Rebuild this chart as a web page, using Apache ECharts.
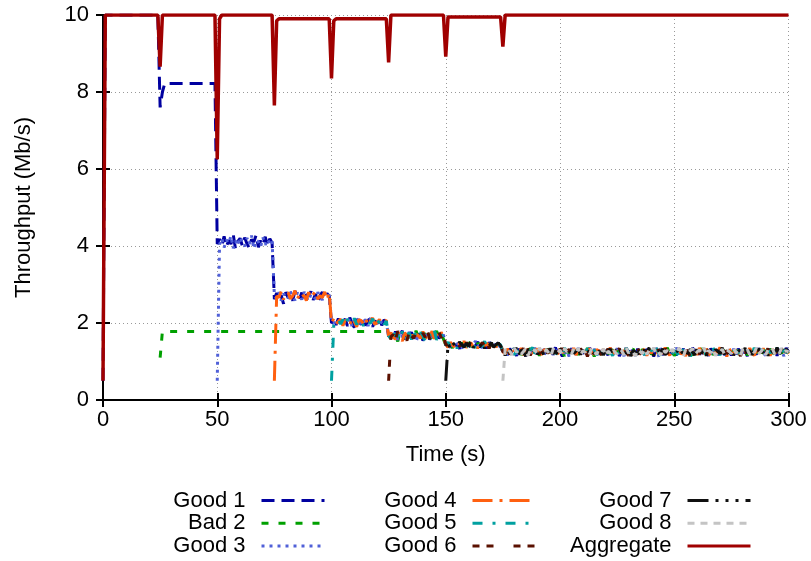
<!DOCTYPE html>
<html>
<head>
<meta charset="utf-8">
<script src="https://cdn.jsdelivr.net/npm/echarts@6/dist/echarts.min.js"></script>
<style>html,body{margin:0;padding:0;background:#fff}#chart{width:811px;height:561px}</style>
</head>
<body>
<div id="chart"></div>
<script>
// Axis ticks
const xTicks = [0, 50, 100, 150, 200, 250, 300];
const yTicks = [0, 2, 4, 6, 8, 10];

// Series names
const names = ['Good 1', 'Bad 2', 'Good 3', 'Good 4', 'Good 5', 'Good 6', 'Good 7', 'Good 8', 'Aggregate'];

// Each flow: first sample time (s) and one value per second (Mb/s)
const good1Start = 0;
const good1 = [0.5,
10,10,10,10,10,10,10,10,10,10,10,10,10,10,10,10,10,10,10,10,10,10,10,10,
7.6,8.0,8.22,8.22,8.22,8.22,8.22,8.22,8.22,8.22,8.22,8.22,8.22,8.22,8.22,8.22,8.22,8.22,8.22,8.22,8.22,8.22,8.22,8.22,8.22,
4.05,4.18,4.02,4.25,3.98,4.15,4.05,4.3,3.92,4.12,4.2,4.0,4.22,4.06,3.95,4.17,4.1,4.28,3.97,4.14,4.03,4.24,4.0,4.19,4.08,
2.62,2.78,2.6,2.72,2.5,2.8,2.66,2.75,2.58,2.83,2.68,2.62,2.79,2.55,2.74,2.7,2.82,2.6,2.76,2.52,2.71,2.8,2.64,2.77,2.7,
2.0,2.08,1.95,2.12,1.9,2.05,2.1,1.92,2.14,2.0,1.88,2.1,2.03,1.96,2.13,1.93,2.07,2.11,1.9,2.06,1.98,2.12,1.94,2.08,2.02,
1.65,1.72,1.55,1.78,1.6,1.68,1.8,1.52,1.7,1.64,1.76,1.58,1.73,1.62,1.79,1.54,1.69,1.75,1.57,1.71,1.63,1.77,1.6,1.7,1.66,
1.42,1.48,1.36,1.5,1.4,1.45,1.33,1.52,1.42,1.38,1.49,1.35,1.46,1.41,1.51,1.37,1.44,1.47,1.34,1.5,1.39,1.45,1.43,1.48,1.4,
1.25,
1.3,1.18,1.34,1.2,1.27,1.15,1.33,1.22,1.29,1.14,1.31,1.24,1.19,1.35,1.21,1.28,1.16,1.32,1.23,1.3,1.17,1.26,1.36,1.2,1.29,
1.13,1.31,1.25,1.19,1.34,1.22,1.28,1.15,1.33,1.21,1.27,1.18,1.35,1.24,1.3,1.16,1.29,1.2,1.32,1.23,1.17,1.34,1.26,1.21,1.31,
1.14,1.28,1.22,1.36,1.19,1.3,1.25,1.15,1.33,1.2,1.27,1.18,1.32,1.24,1.29,1.13,1.35,1.21,1.26,1.17,1.31,1.23,1.34,1.19,1.28,
1.16,1.3,1.22,1.33,1.2,1.25,1.14,1.36,1.23,1.29,1.18,1.32,1.21,1.27,1.15,1.34,1.24,1.3,1.17,1.28,1.2,1.35,1.22,1.26,1.16,
1.31,1.19,1.33,1.25,1.21,1.29,1.14,1.32,1.23,1.27,1.18,1.34,1.2,1.3,1.24,1.17,1.33,1.22,1.28,1.15,1.31,1.26,1.2,1.35,1.25];

const bad2Start = 25;
const bad2 = [1.1,
1.78,1.78,1.78,1.78,1.78,1.78,1.78,1.78,1.78,1.78,
1.78,1.78,1.78,1.78,1.78,1.78,1.78,1.78,1.78,1.78,
1.78,1.78,1.78,1.78,1.78,1.78,1.78,1.78,1.78,1.78,
1.78,1.78,1.78,1.78,1.78,1.78,1.78,1.78,1.78,1.78,
1.78,1.78,1.78,1.78,1.78,1.78,1.78,1.78,1.78,1.78,
1.78,1.78,1.78,1.78,1.78,1.78,1.78,1.78,1.78,1.78,
1.78,1.78,1.78,1.78,1.78,1.78,1.78,1.78,1.78,1.78,
1.78,1.78,1.78,1.78,1.78,1.78,1.78,1.78,1.78,1.78,
1.78,1.78,1.78,1.78,1.78,1.78,1.78,1.78,1.78,1.78,
1.78,1.78,1.78,1.78,1.78,1.78,1.78,1.78,1.78,
1.7,1.6,1.74,1.65,1.52,1.78,1.67,1.59,1.75,1.62,1.7,1.55,1.8,1.64,1.69,1.57,1.76,1.61,1.72,1.53,1.68,1.79,1.63,1.71,1.58,
1.43,1.4,1.47,1.35,1.51,1.42,1.38,1.49,1.36,1.45,1.52,1.39,1.44,1.34,1.48,1.41,1.5,1.37,1.46,1.43,1.35,1.49,1.4,1.47,1.42,
1.25,
1.22,1.31,1.17,1.28,1.34,1.19,1.25,1.13,1.32,1.24,1.2,1.35,1.18,1.27,1.3,1.15,1.33,1.21,1.26,1.36,1.19,1.29,1.23,1.16,1.31,
1.25,1.14,1.34,1.2,1.28,1.22,1.33,1.17,1.3,1.26,1.19,1.35,1.21,1.27,1.13,1.32,1.24,1.18,1.29,1.36,1.2,1.25,1.31,1.15,1.28,
1.23,1.34,1.19,1.3,1.16,1.27,1.33,1.21,1.25,1.14,1.32,1.26,1.2,1.35,1.18,1.29,1.22,1.31,1.17,1.28,1.24,1.36,1.19,1.3,1.15,
1.27,1.33,1.21,1.25,1.18,1.34,1.23,1.16,1.31,1.26,1.2,1.35,1.13,1.29,1.22,1.32,1.17,1.28,1.24,1.19,1.33,1.25,1.3,1.15,1.27,
1.21,1.36,1.18,1.29,1.23,1.32,1.16,1.26,1.2,1.34,1.22,1.28,1.14,1.31,1.25,1.19,1.33,1.24,1.17,1.3,1.26,1.21,1.35,1.18,1.27];

const good3Start = 50;
const good3 = [0.5,
4.04,4.2,3.96,4.16,4.07,4.26,3.94,4.13,4.01,4.23,4.09,3.99,4.21,4.05,4.27,3.93,4.15,4.11,3.98,4.22,4.03,4.18,4.06,4.14,
2.7,2.64,2.8,2.58,2.76,2.7,2.62,2.82,2.67,2.59,2.78,2.73,2.61,2.81,2.66,2.57,2.75,2.69,2.63,2.8,2.68,2.6,2.77,2.65,2.74,
2.05,1.98,2.1,1.94,2.06,2.13,1.96,2.02,2.11,1.91,2.07,1.99,2.14,1.95,2.04,2.09,1.92,2.12,2.0,1.97,2.1,1.93,2.05,2.11,1.99,
1.68,1.68,1.61,1.75,1.56,1.79,1.64,1.7,1.58,1.77,1.62,1.73,1.51,1.69,1.66,1.8,1.59,1.74,1.63,1.55,1.78,1.65,1.72,1.6,1.7,
1.43,1.45,1.39,1.52,1.37,1.47,1.43,1.34,1.5,1.41,1.36,1.48,1.44,1.53,1.38,1.46,1.35,1.49,1.42,1.37,1.51,1.4,1.46,1.36,1.44,
1.25,
1.27,1.16,1.3,1.22,1.35,1.19,1.26,1.32,1.14,1.29,1.21,1.34,1.18,1.25,1.31,1.2,1.36,1.15,1.28,1.23,1.33,1.17,1.3,1.24,1.19,
1.34,1.21,1.27,1.13,1.32,1.25,1.18,1.35,1.22,1.29,1.16,1.3,1.26,1.2,1.33,1.15,1.28,1.23,1.36,1.19,1.27,1.31,1.17,1.24,1.34,
1.2,1.29,1.14,1.32,1.25,1.21,1.35,1.18,1.28,1.22,1.31,1.16,1.26,1.33,1.19,1.3,1.23,1.13,1.34,1.27,1.2,1.29,1.17,1.32,1.24,
1.36,1.18,1.25,1.3,1.15,1.33,1.21,1.28,1.19,1.35,1.22,1.26,1.14,1.31,1.27,1.2,1.34,1.17,1.29,1.24,1.32,1.16,1.25,1.3,1.21,
1.33,1.18,1.28,1.23,1.36,1.15,1.27,1.31,1.2,1.26,1.34,1.19,1.29,1.22,1.16,1.32,1.25,1.3,1.18,1.35,1.21,1.27,1.14,1.31,1.24];

const good4Start = 75;
const good4 = [0.5,
2.7,2.66,2.82,2.61,2.75,2.79,2.63,2.7,2.84,2.6,2.77,2.68,2.72,2.58,2.8,2.65,2.74,2.83,2.62,2.71,2.66,2.81,2.6,2.78,
2.0,2.12,1.97,2.04,2.1,1.93,2.08,2.01,1.95,2.13,2.03,1.9,2.09,2.06,1.98,2.11,1.94,2.05,2.13,1.96,2.02,2.09,1.99,2.04,2.07,
1.66,1.75,1.63,1.58,1.77,1.66,1.53,1.74,1.69,1.61,1.8,1.56,1.71,1.67,1.6,1.78,1.54,1.73,1.65,1.79,1.59,1.7,1.62,1.76,1.64,
1.44,1.37,1.5,1.43,1.35,1.48,1.46,1.39,1.53,1.36,1.44,1.49,1.38,1.47,1.34,1.51,1.42,1.4,1.48,1.36,1.45,1.52,1.38,1.43,1.47,
1.26,
1.19,1.33,1.24,1.15,1.3,1.27,1.2,1.35,1.17,1.28,1.32,1.21,1.26,1.13,1.34,1.23,1.18,1.31,1.29,1.16,1.36,1.22,1.25,1.19,1.33,
1.28,1.14,1.3,1.24,1.2,1.35,1.17,1.27,1.32,1.21,1.26,1.15,1.34,1.23,1.19,1.31,1.28,1.16,1.33,1.25,1.2,1.36,1.18,1.29,1.22,
1.3,1.14,1.27,1.34,1.21,1.25,1.17,1.32,1.24,1.19,1.35,1.28,1.15,1.3,1.22,1.26,1.33,1.18,1.29,1.2,1.36,1.23,1.16,1.31,1.27,
1.21,1.34,1.19,1.25,1.14,1.32,1.28,1.2,1.3,1.17,1.35,1.24,1.22,1.33,1.15,1.27,1.31,1.18,1.26,1.36,1.21,1.29,1.13,1.34,1.23,
1.19,1.3,1.25,1.17,1.33,1.28,1.2,1.35,1.22,1.16,1.31,1.26,1.19,1.34,1.24,1.29,1.15,1.32,1.21,1.27,1.18,1.36,1.23,1.3,1.2];

const good5Start = 100;
const good5 = [0.5,
1.95,2.06,2.11,1.97,2.09,1.93,2.1,2.04,1.98,2.12,1.96,2.05,2.1,1.92,2.08,2.03,1.99,2.11,1.94,2.07,2.01,2.12,1.96,2.05,
1.67,1.58,1.77,1.66,1.71,1.55,1.78,1.62,1.68,1.74,1.57,1.79,1.64,1.6,1.76,1.67,1.52,1.72,1.69,1.61,1.8,1.56,1.73,1.65,1.7,
1.42,1.5,1.41,1.38,1.47,1.34,1.52,1.43,1.4,1.46,1.37,1.5,1.42,1.36,1.49,1.44,1.39,1.53,1.35,1.45,1.41,1.48,1.37,1.46,1.43,
1.24,
1.31,1.2,1.26,1.35,1.17,1.29,1.23,1.14,1.33,1.25,1.19,1.3,1.36,1.21,1.27,1.16,1.32,1.24,1.18,1.34,1.22,1.28,1.15,1.3,1.26,
1.2,1.35,1.23,1.17,1.31,1.27,1.13,1.33,1.21,1.29,1.18,1.34,1.25,1.2,1.3,1.16,1.36,1.22,1.27,1.19,1.32,1.24,1.15,1.29,1.33,
1.21,1.26,1.18,1.35,1.23,1.3,1.14,1.28,1.32,1.2,1.25,1.17,1.34,1.22,1.29,1.19,1.36,1.24,1.16,1.31,1.27,1.21,1.33,1.18,1.28,
1.23,1.15,1.35,1.26,1.2,1.3,1.13,1.32,1.25,1.19,1.34,1.22,1.28,1.17,1.31,1.24,1.36,1.2,1.27,1.16,1.33,1.21,1.29,1.25,1.18,
1.34,1.23,1.3,1.15,1.27,1.32,1.2,1.26,1.17,1.35,1.24,1.19,1.31,1.28,1.14,1.33,1.22,1.29,1.2,1.36,1.25,1.18,1.3,1.23,1.27];

const good6Start = 125;
const good6 = [0.5,
1.64,1.7,1.57,1.79,1.61,1.73,1.67,1.54,1.76,1.66,1.6,1.78,1.7,1.55,1.74,1.63,1.79,1.58,1.72,1.65,1.6,1.77,1.62,1.69,
1.44,1.42,1.48,1.36,1.44,1.51,1.39,1.46,1.35,1.49,1.43,1.38,1.52,1.4,1.45,1.37,1.5,1.41,1.47,1.34,1.48,1.42,1.39,1.5,1.44,
1.25,
1.24,1.35,1.18,1.29,1.21,1.32,1.15,1.27,1.34,1.2,1.26,1.16,1.31,1.23,1.36,1.19,1.28,1.22,1.14,1.33,1.25,1.3,1.17,1.27,1.21,
1.35,1.19,1.26,1.32,1.15,1.29,1.24,1.18,1.34,1.22,1.3,1.13,1.28,1.25,1.36,1.2,1.27,1.17,1.31,1.23,1.33,1.16,1.29,1.21,1.26,
1.34,1.18,1.3,1.24,1.15,1.32,1.27,1.2,1.35,1.22,1.17,1.29,1.25,1.33,1.19,1.28,1.14,1.31,1.26,1.21,1.36,1.23,1.18,1.3,1.24,
1.16,1.34,1.27,1.2,1.32,1.25,1.13,1.29,1.22,1.35,1.19,1.26,1.3,1.17,1.33,1.23,1.28,1.15,1.31,1.21,1.27,1.36,1.2,1.24,1.32,
1.18,1.29,1.25,1.14,1.33,1.22,1.3,1.19,1.35,1.26,1.17,1.28,1.23,1.31,1.2,1.34,1.16,1.27,1.24,1.3,1.21,1.33,1.18,1.26,1.29];

const good7Start = 150;
const good7 = [0.5,
1.46,1.35,1.49,1.42,1.38,1.51,1.44,1.37,1.47,1.4,1.53,1.36,1.45,1.43,1.39,1.5,1.34,1.46,1.41,1.49,1.37,1.44,1.48,1.41,
1.26,
1.16,1.28,1.33,1.2,1.25,1.36,1.18,1.3,1.23,1.14,1.32,1.27,1.21,1.35,1.19,1.26,1.31,1.15,1.29,1.24,1.34,1.2,1.28,1.17,1.33,
1.22,1.3,1.25,1.13,1.35,1.21,1.27,1.32,1.18,1.29,1.24,1.16,1.34,1.26,1.2,1.31,1.23,1.36,1.17,1.28,1.22,1.33,1.15,1.3,1.25,
1.19,1.35,1.27,1.21,1.32,1.14,1.29,1.24,1.18,1.34,1.26,1.3,1.2,1.36,1.23,1.16,1.31,1.28,1.22,1.33,1.17,1.27,1.25,1.35,1.19,
1.3,1.21,1.14,1.33,1.26,1.2,1.32,1.24,1.17,1.35,1.28,1.22,1.3,1.15,1.34,1.25,1.19,1.31,1.27,1.21,1.36,1.18,1.29,1.23,1.33,
1.16,1.28,1.32,1.2,1.26,1.35,1.22,1.29,1.17,1.31,1.24,1.34,1.19,1.27,1.3,1.15,1.33,1.25,1.21,1.36,1.2,1.28,1.23,1.32,1.26];

const good8Start = 175;
const good8 = [0.5,
1.33,1.21,1.27,1.17,1.35,1.24,1.3,1.19,1.26,1.34,1.15,1.29,1.22,1.32,1.18,1.36,1.25,1.2,1.31,1.23,1.14,1.33,1.27,1.21,1.3,
1.17,1.34,1.25,1.29,1.19,1.32,1.22,1.35,1.16,1.28,1.24,1.31,1.2,1.36,1.26,1.18,1.3,1.23,1.33,1.15,1.27,1.21,1.34,1.25,1.19,
1.32,1.28,1.17,1.35,1.22,1.29,1.24,1.14,1.31,1.26,1.2,1.33,1.18,1.3,1.25,1.36,1.21,1.27,1.16,1.34,1.23,1.29,1.19,1.32,1.24,
1.2,1.35,1.27,1.13,1.31,1.22,1.28,1.34,1.18,1.25,1.3,1.21,1.36,1.17,1.29,1.23,1.33,1.15,1.27,1.24,1.32,1.19,1.3,1.26,1.2,
1.35,1.22,1.28,1.16,1.33,1.25,1.31,1.18,1.29,1.23,1.36,1.2,1.26,1.34,1.17,1.3,1.24,1.32,1.19,1.27,1.21,1.35,1.23,1.28,1.25];

// Aggregate: times where the value changes, and the values there
const aggTime  = [0, 1, 24, 25, 26, 49, 50, 51, 52, 74, 75, 76, 77, 99, 100, 101, 102, 124, 125, 126, 149, 150, 151, 174, 175, 176, 300];
const aggValue = [0.5, 10, 10, 8.66, 10, 10, 6.25, 9.9, 10, 10, 7.65, 9.85, 9.9, 9.9, 8.35, 9.85, 9.9, 9.9, 8.77, 10, 10, 8.92, 9.95, 9.95, 9.18, 10, 10];

function perSecond(start, vals) { return vals.map((v, i) => [start + i, v]); }

const FONT = 'Liberation Sans';
const FS = 22;

const styles = [
  { color: '#0000a0', type: [13, 7], width: 3 },
  { color: '#00a000', type: [7, 10], width: 3 },
  { color: '#5060d8', type: [3, 5], width: 3 },
  { color: '#ff6010', type: [20, 7, 3, 7], width: 3 },
  { color: '#00a0a0', type: [10, 10, 3, 10], width: 3 },
  { color: '#5a1000', type: [7, 7, 7, 20], width: 3 },
  { color: '#101010', type: [21, 7, 3, 7, 3, 7, 3, 7], width: 3 },
  { color: '#c4c4c4', type: [7, 6], width: 3 },
  { color: '#a00000', type: 'solid', width: 3.5 }
];

const seriesData = [
  perSecond(good1Start, good1),
  perSecond(bad2Start, bad2),
  perSecond(good3Start, good3),
  perSecond(good4Start, good4),
  perSecond(good5Start, good5),
  perSecond(good6Start, good6),
  perSecond(good7Start, good7),
  perSecond(good8Start, good8),
  aggTime.map((t, i) => [t, aggValue[i]])
];

const series = names.map((n, i) => ({
  name: n,
  type: 'line',
  data: seriesData[i],
  symbol: 'none',
  showSymbol: false,
  color: styles[i].color,
  lineStyle: { color: styles[i].color, width: styles[i].width, type: styles[i].type },
  emphasis: { disabled: true },
  z: 2 + i
}));

const legendCommon = {
  orient: 'vertical',
  align: 'right',
  itemWidth: 63,
  itemHeight: 20,
  itemGap: 0.7,
  padding: 0,
  height: 90,
  selectedMode: false,
  top: 489.5,
  textStyle: { color: '#000', fontSize: FS, fontFamily: FONT, padding: [0, 11, 0, 0] },
  lineStyle: { width: 3 },
  itemStyle: { opacity: 0, borderWidth: 0 }
};

const chart = echarts.init(document.getElementById('chart'), null, { renderer: 'canvas' });
chart.setOption({
  animation: false,
  backgroundColor: '#fff',
  grid: { left: 103, right: 22.5, top: 15, bottom: 161, outerBoundsMode: 'none', containLabel: false },
  legend: [
    Object.assign({}, legendCommon, { data: names.slice(0, 3), right: 485 }),
    Object.assign({}, legendCommon, { data: names.slice(3, 6), right: 274 }),
    Object.assign({}, legendCommon, { data: names.slice(6, 9), right: 59 })
  ],
  xAxis: [{
    type: 'value', min: xTicks[0], max: xTicks[xTicks.length - 1], interval: xTicks[1] - xTicks[0],
    name: 'Time (s)', nameLocation: 'middle', nameGap: 44,
    nameTextStyle: { color: '#000', fontSize: FS, fontFamily: FONT },
    axisLine: { show: true, onZero: false, lineStyle: { color: '#000', width: 2 } },
    axisTick: { show: true, inside: true, length: 7, lineStyle: { color: '#000', width: 2 } },
    axisLabel: { color: '#000', fontSize: FS, fontFamily: FONT, margin: 9 },
    splitLine: { show: true, lineStyle: { color: '#999', width: 1, type: [1, 3] } }
  }, {
    type: 'value', position: 'top', min: xTicks[0], max: xTicks[xTicks.length - 1], interval: xTicks[1] - xTicks[0],
    axisLine: { show: false },
    axisTick: { show: true, inside: true, length: 7, lineStyle: { color: '#000', width: 2 } },
    axisLabel: { show: false },
    splitLine: { show: false }
  }],
  yAxis: [{
    type: 'value', min: yTicks[0], max: yTicks[yTicks.length - 1], interval: yTicks[1] - yTicks[0],
    name: 'Throughput (Mb/s)', nameLocation: 'middle', nameGap: 68, nameRotate: 90,
    nameTextStyle: { color: '#000', fontSize: FS, fontFamily: FONT },
    axisLine: { show: true, onZero: false, lineStyle: { color: '#000', width: 2 } },
    axisTick: { show: true, inside: true, length: 7, lineStyle: { color: '#000', width: 2 } },
    axisLabel: { color: '#000', fontSize: FS, fontFamily: FONT, margin: 14 },
    splitLine: { show: true, lineStyle: { color: '#999', width: 1, type: [1, 3] } }
  }, {
    type: 'value', position: 'right', min: yTicks[0], max: yTicks[yTicks.length - 1], interval: yTicks[1] - yTicks[0],
    axisLine: { show: false },
    axisTick: { show: true, inside: true, length: 7, lineStyle: { color: '#000', width: 2 } },
    axisLabel: { show: false },
    splitLine: { show: false }
  }],
  series: series
});
</script>
</body>
</html>
